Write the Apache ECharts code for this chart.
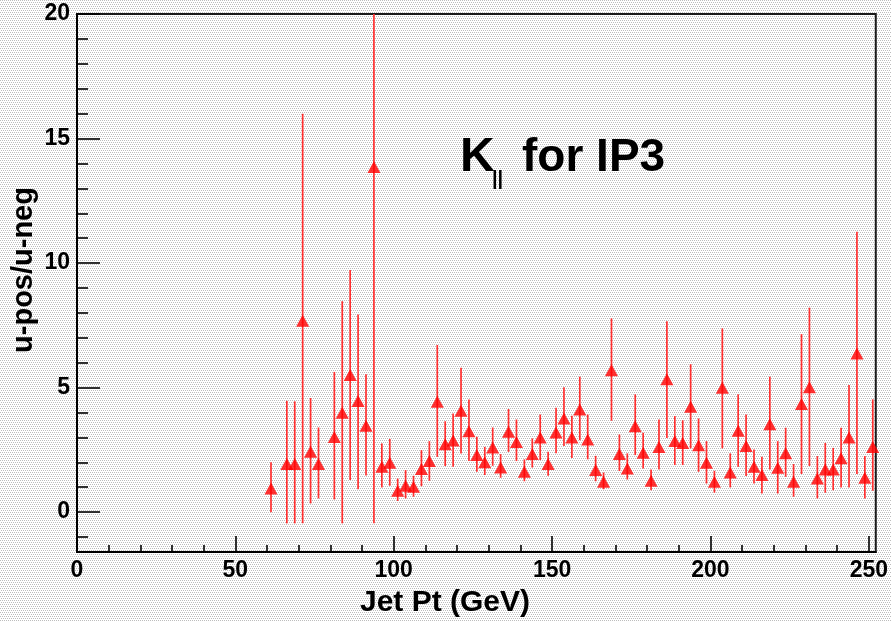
<!DOCTYPE html>
<html><head><meta charset="utf-8">
<script src="https://cdn.jsdelivr.net/npm/echarts@6/dist/echarts.min.js"></script>
<style>html,body{margin:0;padding:0;width:891px;height:622px;overflow:hidden;}#c{width:891px;height:622px;}</style>
</head><body><div id="c"></div>
<script>
// Bin centers (Jet Pt, GeV)
const binCenters = [61.25, 66.25, 68.75, 71.25, 73.75, 76.25,
  81.25, 83.75, 86.25, 88.75, 91.25, 93.75, 96.25, 98.75, 101.25, 103.75,
  106.25, 108.75, 111.25, 113.75, 116.25, 118.75, 121.25, 123.75, 126.25, 128.75,
  131.25, 133.75, 136.25, 138.75, 141.25, 143.75, 146.25, 148.75, 151.25, 153.75,
  156.25, 158.75, 161.25, 163.75, 166.25, 168.75, 171.25, 173.75, 176.25, 178.75,
  181.25, 183.75, 186.25, 188.75, 191.25, 193.75, 196.25, 198.75, 201.25, 203.75,
  206.25, 208.75, 211.25, 213.75, 216.25, 218.75, 221.25, 223.75, 226.25, 228.75,
  231.25, 233.75, 236.25, 238.75, 241.25, 243.75, 246.25, 248.75, 251.25];
// u-pos/u-neg ratio
const ratioValues = [0.95, 1.93, 1.93, 7.68, 2.42, 1.93,
  3.02, 3.99, 5.51, 4.46, 3.47, 13.86, 1.82, 1.98, 0.86, 1.06,
  1.02, 1.73, 2.05, 4.43, 2.73, 2.88, 4.07, 3.25, 2.29, 2.00,
  2.60, 1.79, 3.23, 2.82, 1.62, 2.33, 3.00, 1.93, 3.20, 3.76,
  3.00, 4.12, 2.92, 1.69, 1.22, 5.70, 2.33, 1.75, 3.45, 2.38,
  1.26, 2.62, 5.34, 2.86, 2.78, 4.23, 2.69, 1.98, 1.22, 4.99,
  1.59, 3.27, 2.66, 1.82, 1.49, 3.53, 1.78, 2.36, 1.22, 4.34,
  5.01, 1.35, 1.71, 1.71, 2.16, 3.00, 6.37, 1.38, 2.62];
// lower end of each error bar
const errLow = [0.00, -0.45, -0.45, -0.45, 0.35, 0.55,
  0.51, -0.45, 1.29, 0.92, 1.47, -0.45, 0.99, 1.06, 0.45, 0.55,
  0.62, 1.04, 1.26, 2.22, 1.85, 1.82, 2.35, 2.05, 1.62, 1.49,
  1.86, 1.38, 2.42, 2.05, 1.24, 1.79, 2.09, 1.46, 2.36, 2.66,
  2.17, 2.89, 2.12, 1.24, 0.92, 3.67, 1.65, 1.31, 2.29, 1.75,
  0.88, 1.71, 2.98, 1.89, 1.89, 2.56, 1.62, 1.15, 0.78, 2.56,
  0.99, 1.82, 1.45, 1.15, 0.75, 1.71, 0.75, 1.42, 0.62, 1.53,
  1.85, 0.55, 0.78, 0.88, 0.99, 0.99, 1.53, 0.55, 0.86];
// upper end of each error bar
const errHigh = [2.00, 4.47, 4.45, 16.00, 4.58, 3.40,
  5.63, 8.47, 9.72, 7.94, 5.54, 28.20, 2.76, 2.94, 1.35, 1.69,
  1.46, 2.49, 2.85, 6.71, 3.65, 3.96, 5.80, 4.52, 3.03, 2.62,
  3.40, 2.33, 4.14, 3.72, 2.12, 2.96, 3.92, 2.42, 4.19, 5.01,
  3.87, 5.44, 3.92, 2.26, 1.59, 7.78, 3.12, 2.36, 4.73, 3.19,
  1.71, 3.72, 7.66, 3.86, 3.69, 5.94, 3.76, 2.85, 1.66, 7.38,
  2.36, 4.73, 3.92, 2.52, 2.22, 5.44, 2.85, 3.39, 1.93, 7.15,
  8.21, 2.25, 2.78, 2.58, 3.39, 5.10, 11.26, 2.25, 4.53];

const xMajorTicks = [0, 50, 100, 150, 200, 250];
const xMinorTicks = [10, 20, 30, 40, 60, 70, 80, 90, 110, 120, 130, 140, 160, 170, 180, 190, 210, 220, 230, 240];
const yMajorTicks = [0, 5, 10, 15, 20];
const yMinorTicks = [-1, 1, 2, 3, 4, 6, 7, 8, 9, 11, 12, 13, 14, 16, 17, 18, 19];

// stippled background
(function(){
  const pc = document.createElement('canvas'); pc.width = 4; pc.height = 4;
  const g = pc.getContext('2d');
  g.fillStyle = '#ffffff'; g.fillRect(0, 0, 4, 4);
  g.fillStyle = '#bcbcbc';
  g.fillRect(0, 0, 1, 1); g.fillRect(2, 0, 1, 1); g.fillRect(1, 2, 1, 1); g.fillRect(3, 2, 1, 1);
  document.body.style.background = 'url(' + pc.toDataURL() + ') repeat';
})();

const FONT = "'Liberation Sans', Arial, Helvetica, sans-serif";
const chart = echarts.init(document.getElementById('c'), null, {renderer: 'canvas'});

const X_MIN = 0, X_MAX = 252.2, Y_MIN = -1.6, Y_MAX = 20;

const labelStyle = {fontFamily: FONT, fontWeight: 'bold', fontSize: 23, color: '#000'};

const option = {
  animation: false,
  backgroundColor: 'transparent',
  grid: {left: 77, top: 14, width: 799, height: 538, show: true, borderColor: '#1a1a1a', borderWidth: 2, backgroundColor: 'transparent'},
  xAxis: [
    {type: 'value', min: X_MIN, max: X_MAX, position: 'bottom',
     axisLine: {show: true, onZero: false, lineStyle: {color: '#000', width: 2}},
     axisTick: {show: true, inside: true, length: 16, customValues: xMajorTicks, lineStyle: {color: '#000', width: 1.6}},
     axisLabel: Object.assign({show: true, margin: 7, customValues: xMajorTicks}, labelStyle),
     splitLine: {show: false}},
    {type: 'value', min: X_MIN, max: X_MAX, position: 'bottom', offset: 0,
     axisLine: {show: false, onZero: false},
     axisTick: {show: true, inside: true, length: 7, customValues: xMinorTicks, lineStyle: {color: '#000', width: 1.6}},
     axisLabel: {show: false},
     splitLine: {show: false}}
  ],
  yAxis: [
    {type: 'value', min: Y_MIN, max: Y_MAX, position: 'left',
     axisLine: {show: true, onZero: false, lineStyle: {color: '#000', width: 2}},
     axisTick: {show: true, inside: true, length: 23, customValues: yMajorTicks, lineStyle: {color: '#000', width: 1.6}},
     axisLabel: Object.assign({show: true, margin: 7, customValues: yMajorTicks}, labelStyle),
     splitLine: {show: false}},
    {type: 'value', min: Y_MIN, max: Y_MAX, position: 'left', offset: 0,
     axisLine: {show: false, onZero: false},
     axisTick: {show: true, inside: true, length: 11, customValues: yMinorTicks, lineStyle: {color: '#000', width: 1.6}},
     axisLabel: {show: false},
     splitLine: {show: false}}
  ],
  series: [
    {type: 'custom', xAxisIndex: 0, yAxisIndex: 0, clip: true, z: 2,
     data: binCenters.map((x, i) => [x, errLow[i], errHigh[i]]),
     encode: {x: 0, y: [1, 2]},
     renderItem: function(params, api){
       const lo = api.coord([api.value(0), api.value(1)]);
       const hi = api.coord([api.value(0), api.value(2)]);
       return {type: 'line', shape: {x1: lo[0], y1: lo[1], x2: hi[0], y2: hi[1]},
               style: {stroke: '#ff3030', lineWidth: 1.7}};
     }},
    {type: 'scatter', xAxisIndex: 0, yAxisIndex: 0, z: 3,
     symbol: 'triangle', symbolSize: [13, 12],
     itemStyle: {color: '#ff0000'},
     data: binCenters.map((x, i) => [x, ratioValues[i]])}
  ],
  graphic: [
    {type: 'text', x: 445, y: 603, style: {text: 'Jet Pt (GeV)', font: "bold 30px " + FONT, fill: '#000', align: 'center', verticalAlign: 'middle'}},
    {type: 'text', x: 24, y: 270, rotation: Math.PI / 2, style: {text: 'u-pos/u-neg', font: "bold 29px " + FONT, fill: '#000', align: 'center', verticalAlign: 'middle'}},
    {type: 'text', x: 460, y: 158, style: {text: 'K', font: "bold 48px " + FONT, fill: '#000', align: 'left', verticalAlign: 'middle'}},
    {type: 'text', x: 492, y: 179, style: {text: '||', font: "bold 20px " + FONT, fill: '#000', align: 'left', verticalAlign: 'middle'}},
    {type: 'text', x: 522, y: 158, style: {text: 'for IP3', font: "bold 46px " + FONT, fill: '#000', align: 'left', verticalAlign: 'middle'}}
  ]
};
chart.setOption(option);
</script>
</body></html>
